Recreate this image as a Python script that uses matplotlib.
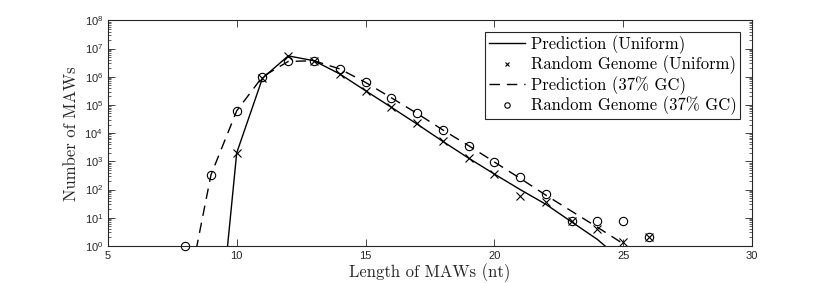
import matplotlib
matplotlib.use("Agg")
import matplotlib.pyplot as plt
import numpy as np

# Data
pred_uni_len = [9, 10, 11, 12, 13, 14, 15, 16, 17, 18, 19, 20, 21, 22, 23, 24, 25]
pred_uni = [1e-6, 2.0e3, 8.9e5, 5.5e6, 3.7e6, 1.26e6, 3.2e5, 8.3e4, 2.1e4, 5.1e3,
            1.3e3, 355, 100, 30, 7.1, 1.7, 0.28]

rand_uni_len = [10, 11, 12, 13, 14, 15, 16, 17, 18, 19, 20, 21, 22, 23, 24, 25, 26]
rand_uni = [2.0e3, 9.0e5, 5.5e6, 3.7e6, 1.26e6, 3.2e5, 8.3e4, 2.2e4, 5.1e3, 1.3e3,
            355, 59, 37, 7.5, 3.9, 1.4, 2]

pred_gc_len = [8, 9, 10, 11, 12, 13, 14, 15, 16, 17, 18, 19, 20, 21, 22, 23, 24, 25, 26]
pred_gc = [8e-3, 330, 6.2e4, 1.0e6, 3.5e6, 3.7e6, 1.9e6, 6.3e5, 1.8e5, 5.0e4, 1.3e4,
           3.6e3, 950, 250, 63, 17, 4.6, 1.2, 0.25]

rand_gc_len = [8, 9, 10, 11, 12, 13, 14, 15, 16, 17, 18, 19, 20, 21, 22, 23, 24, 25, 26]
rand_gc = [1, 330, 6.2e4, 1.0e6, 3.5e6, 3.7e6, 1.9e6, 6.3e5, 1.8e5, 5.0e4, 1.3e4,
           3.5e3, 930, 275, 69, 7.5, 7.5, 7.5, 2]

labels = ["Prediction (Uniform)", "Random Genome (Uniform)",
          "Prediction (37% GC)", "Random Genome (37% GC)"]
x_ticks = [5, 10, 15, 20, 25, 30]

plt.rcParams['mathtext.fontset'] = 'custom'
plt.rcParams['mathtext.rm'] = 'Liberation Sans'
plt.rcParams['mathtext.it'] = 'Liberation Sans:italic'
plt.rcParams['font.family'] = ['Liberation Sans', 'DejaVu Sans']

fig = plt.figure(figsize=(8.3, 2.83), dpi=100)
ax = fig.add_axes([0.130, 0.131, 0.776, 0.797])

axc = '#262626'
ax.plot(pred_uni_len, pred_uni, '-', color='black', lw=1.0, label=labels[0])
ax.plot(rand_uni_len, rand_uni, 'x', color='black', ms=5.5, mew=0.8, label=labels[1], clip_on=False)
ax.plot(pred_gc_len, pred_gc, '--', color='black', lw=1.0, dashes=(7.5, 5), label=labels[2])
ax.plot(rand_gc_len, rand_gc, 'o', mfc='none', mec='black', ms=6, mew=0.8, label=labels[3], clip_on=False)

ax.set_yscale('log')
ax.set_xlim(5, 30)
ax.set_ylim(1, 1e8)
ax.set_xticks(x_ticks)
ax.set_xticklabels([str(t) for t in x_ticks])
ax.set_yticks([10.0**k for k in range(9)])
ax.set_yticklabels([r'$10^{%d}$' % k for k in range(9)])
ax.yaxis.set_minor_locator(matplotlib.ticker.LogLocator(base=10, subs=np.arange(2, 10), numticks=20))
ax.yaxis.set_minor_formatter(matplotlib.ticker.NullFormatter())
ax.tick_params(which='both', direction='in', top=True, right=True, colors=axc, labelsize=8, labelcolor=axc)
ax.tick_params(which='major', length=5, width=0.6)
ax.tick_params(which='minor', length=2.5, width=0.5)
ax.tick_params(axis='x', pad=4)
for s in ax.spines.values():
    s.set_color(axc)
    s.set_linewidth(0.8)

ax.set_xlabel("Length of MAWs (nt)", fontfamily='cmr10', fontsize=12, color=axc, labelpad=1)
ax.set_ylabel("Number of MAWs", fontfamily='cmr10', fontsize=12, color=axc, labelpad=4)

leg = ax.legend(loc='upper right', prop={'family': 'cmr10', 'size': 12},
                frameon=True, fancybox=False, edgecolor=axc, framealpha=1,
                borderaxespad=0.7, handlelength=2.2, handletextpad=0.35,
                labelspacing=0.1, borderpad=0.2, markerscale=0.65)
leg.get_frame().set_linewidth(0.8)

fig.savefig('out.png', dpi=100)
